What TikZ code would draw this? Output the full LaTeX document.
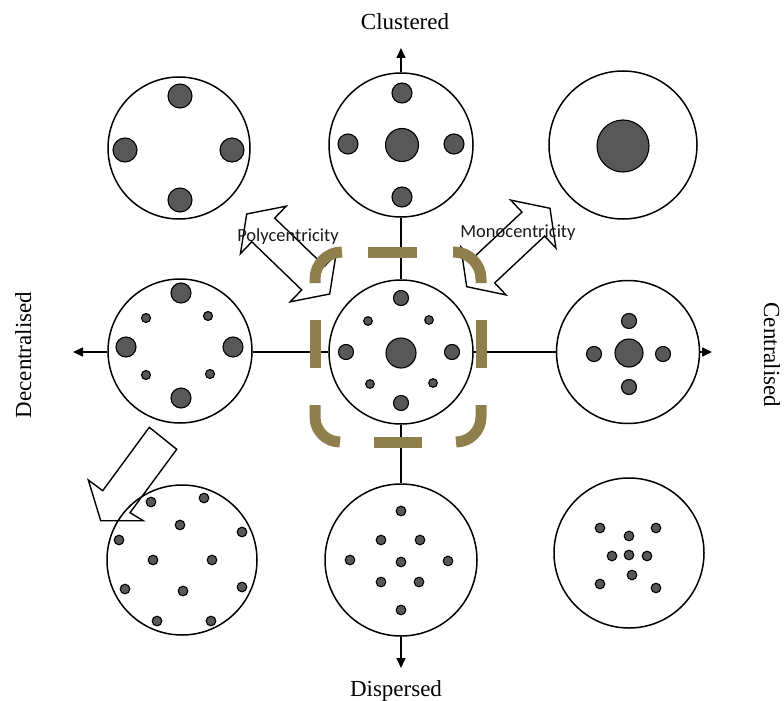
\documentclass[tikz,border=0pt]{standalone}
\usepackage{fontspec}
\setmainfont{Liberation Serif}
\newfontfamily\calib{Carlito}
\usetikzlibrary{arrows.meta}
\definecolor{dotgray}{RGB}{88,88,88}
\definecolor{framecol}{RGB}{142,127,77}
\begin{document}
\begin{tikzpicture}[x=1pt,y=-1pt,
  ring/.style={circle,draw=black,line width=1.5pt,fill=white,inner sep=0pt},
  dotc/.style={draw=black,line width=1.1pt,fill=dotgray},
  axisline/.style={line width=1.5pt},
  axisarrow/.style={line width=1.5pt,-{Triangle[length=10pt,width=9pt]}},
  blockarrow/.style={draw=black,line width=1.4pt,line join=miter},
  framebar/.style={draw=framecol,line width=11pt,line cap=butt},
  axislabel/.style={font=\fontsize{23pt}{26pt}\selectfont,inner sep=0pt},
  arrowlabel/.style={font=\calib\fontsize{18.5pt}{20pt}\selectfont,inner sep=0pt,text=black!90}]
\useasboundingbox (0,0) rectangle (784,701);

% circles
\node[ring,minimum size=142pt] (cTL) at (179,148) {};
\node[ring,minimum size=144pt] (cTM) at (401,145) {};
\node[ring,minimum size=148pt] (cTR) at (623,145) {};
\node[ring,minimum size=144pt] (cML) at (180,351) {};
\node[ring,minimum size=144pt] (cM)  at (401,352) {};
\node[ring,minimum size=143pt] (cMR) at (628,352) {};
\node[ring,minimum size=150pt] (cBL) at (182,560) {};
\node[ring,minimum size=152pt] (cBM) at (401,560) {};
\node[ring,minimum size=150pt] (cBR) at (629,553) {};

% axes
\coordinate (tipL) at (73,352);
\coordinate (tipR) at (712,352);
\coordinate (tipT) at (401,48);
\coordinate (tipB) at (401,668);
\draw[axisline] (cM.west) -- (cML.east |- cM.west);
\draw[axisline] (cM.east) -- (cMR.west);
\draw[axisline] (cM.north) -- (cTM.south);
\draw[axisline] (cM.south) -- (cBM.north);
\draw[axisarrow] (cML.west |- cM.west) -- (tipL);
\draw[axisarrow] (cMR.east) -- (tipR);
\draw[axisarrow] (cTM.north) -- (tipT);
\draw[axisarrow] (cBM.south) -- (tipB);

% top-left dots
\foreach \p in {(180,96),(125,150),(232,150),(180,200)}
  \path[dotc] \p circle[radius=12pt];
% top-middle dots
\foreach \p in {(402,93),(348,144),(454,144),(402,197)}
  \path[dotc] \p circle[radius=10pt];
\path[dotc] (402,145) circle[radius=16.5pt];
% top-right
\path[dotc] (623,146) circle[radius=26pt];
% middle-left
\foreach \p in {(181,293),(126,347),(233,347),(181,398)}
  \path[dotc] \p circle[radius=10pt];
\foreach \p in {(146,318),(208,316),(146,375),(210,374)}
  \path[dotc] \p circle[radius=4.5pt];
% centre
\foreach \p in {(401,298),(346,352),(452,352),(401,403)}
  \path[dotc] \p circle[radius=7.5pt];
\path[dotc] (401,353) circle[radius=15pt];
\foreach \p in {(368,321),(429,320),(370,384),(433,383)}
  \path[dotc] \p circle[radius=4.3pt];
% middle-right
\foreach \p in {(629,321),(594,354),(663,354),(629,387)}
  \path[dotc] \p circle[radius=7.5pt];
\path[dotc] (629,353) circle[radius=14pt];
% bottom-left
\foreach \p in {(151,502),(204,498),(180,525),(242,532),(119,540),(153,560),(212,560),(125,589),(183,591),(242,587),(157,621),(211,621)}
  \path[dotc] \p circle[radius=4.8pt];
% bottom-middle
\foreach \p in {(401,511),(381,540),(420,540),(350,560),(401,562),(448,561),(381,582),(419,582),(401,610)}
  \path[dotc] \p circle[radius=4.8pt];
% bottom-right
\foreach \p in {(600,528),(656,528),(629,536),(612,556),(629,555),(647,556),(632,575),(600,584),(656,588)}
  \path[dotc] \p circle[radius=4.8pt];

% block arrows
\path[blockarrow,fill=white] (246.7,214) -- (286.2,206.2) -- (274.7,218.1) -- (324.6,266.2) -- (336.0,254.3) -- (329.7,294) -- (290.2,301.8) -- (301.7,289.9) -- (251.8,241.8) -- (240.4,253.7) -- cycle;
\path[blockarrow,fill=white] (550,208.3) -- (555.9,248.1) -- (544.6,236.1) -- (494.7,282.9) -- (506.0,294.9) -- (466.7,286.7) -- (460.8,246.9) -- (472.1,258.9) -- (522.0,212.1) -- (510.7,200.1) -- cycle;

% arrow labels
\node[arrowlabel] (lpoly) at (288,237) {Polycentricity};
\node[arrowlabel] (lmono) at (518,233) {Monocentricity};

% dashed frame
\draw[framebar] (368,252) -- (417,252);
\draw[framebar] (374,442) -- (422,442);
\draw[framebar] (315,320) -- (315,368);
\draw[framebar] (481,320) -- (481,368);
\draw[framebar,rounded corners=27pt] (342,252) -- (315,252) -- (315,283);
\draw[framebar,rounded corners=27pt] (453,252) -- (481,252) -- (481,283);
\draw[framebar,rounded corners=25pt] (315,405) -- (315,442) -- (340,442);
\draw[framebar,rounded corners=25pt] (481,405) -- (481,442) -- (456,442);

% decentralisation arrow
\path[blockarrow] (149.3,427.3) -- (176.7,449.3) -- (130,512.7) -- (143.3,520.7) -- (100.7,520.7) -- (88.3,480) -- (102.7,490.7) -- cycle;

% axis labels
\node[axislabel,anchor=base] (lclu) at (405,30) {Clustered};
\node[axislabel,anchor=base] (ldis) at (396,696) {Dispersed};
\node[axislabel,anchor=base,rotate=90] (ldec) at (31,355) {Decentralised};
\node[axislabel,anchor=base,rotate=-90] (lcen) at (764,355) {Centralised};
\end{tikzpicture}
\end{document}
